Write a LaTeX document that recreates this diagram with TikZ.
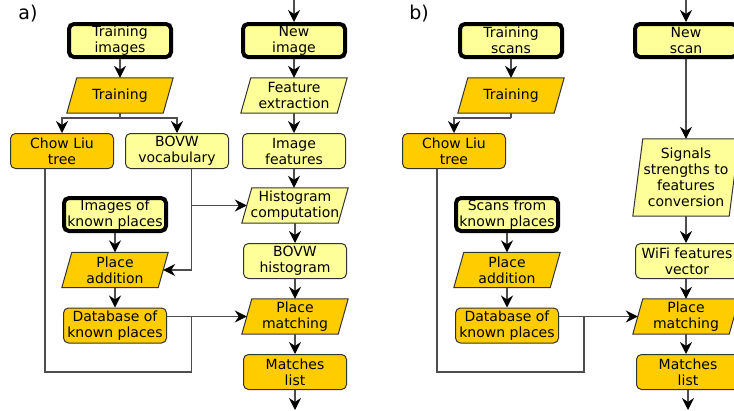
\documentclass[tikz,border=0pt]{standalone}
\usepackage{fontspec}
\setmainfont{DejaVu Sans}
\usetikzlibrary{arrows.meta,backgrounds}
\definecolor{dark}{HTML}{FFCC00}
\definecolor{light}{HTML}{FFFF99}
\definecolor{edgecol}{HTML}{333333}
\definecolor{wirecol}{HTML}{4D4D4D}
\tikzset{
 txt/.style={font=\fontsize{14}{16}\selectfont, align=center, inner sep=0pt},
 boxd/.style={txt, draw=edgecol, line width=1pt, rounded corners=5pt, minimum width=103pt, minimum height=35pt, fill=dark},
 boxl/.style={boxd, fill=light},
 thickbox/.style={txt, draw=black, line width=4pt, rounded corners=5pt, minimum width=102pt, minimum height=33pt, fill=light},
 pnode/.style={txt, minimum width=96pt, minimum height=35pt},
 pshape/.style={draw=edgecol, line width=1pt},
 conn/.style={draw=wirecol, line width=1.3pt, -{Stealth[length=12pt,width=12pt,inset=4pt,color=black]}},
 wireline/.style={draw=wirecol, line width=1.3pt},
 panel/.style={font=\fontsize{19}{22}\selectfont, inner sep=0pt}
}
\newcommand\pgram[2]{%
 \begin{scope}[on background layer]
 \filldraw[pshape, fill=#2] ([xshift=5pt]#1.north west) -- ([xshift=5pt]#1.north east) -- ([xshift=-5pt]#1.south east) -- ([xshift=-5pt]#1.south west) -- cycle;
 \end{scope}}
\begin{document}
\begin{tikzpicture}[x=1pt,y=-1pt]
\path[use as bounding box] (0,0) rectangle (734,410);

% ---------- panel a ----------
\node[panel] (la) at (28,14) {a)};
\node[thickbox] (ti) at (120,40.5) {Training\\images};
\node[pnode] (tr) at (120,95.5) {Training}; \pgram{tr}{dark}
\node[boxd] (cl) at (62,151) {Chow Liu\\tree};
\node[boxl] (bv) at (177,151) {BOVW\\vocabulary};
\node[thickbox] (ik) at (115,214.5) {Images of\\known places};
\node[pnode] (pa) at (115,270) {Place\\addition}; \pgram{pa}{dark}
\node[boxd] (db) at (115,325.5) {Database of\\known places};

\node[thickbox] (ni) at (294,40.5) {New\\image};
\node[pnode] (fe) at (294,95.5) {Feature\\extraction}; \pgram{fe}{light}
\node[boxl] (if) at (294,151) {Image\\features};
\node[pnode] (hc) at (295,205.5) {Histogram\\computation}; \pgram{hc}{light}
\node[boxl] (bh) at (295,261) {BOVW\\histogram};
\node[pnode] (pm) at (295,316.5) {Place\\matching}; \pgram{pm}{dark}
\node[boxd] (ml) at (295,372) {Matches\\list};

\coordinate (ta) at (294,0);
\coordinate (ba) at (295,410);
\draw[conn] (ta) -- (ni.north);
\draw[conn] (ni.south) -- (fe.north);
\draw[conn] (fe.south) -- (if.north);
\draw[conn] (if.south) -- (if.south |- hc.north);
\draw[conn] (hc.south) -- (bh.north);
\draw[conn] (bh.south) -- (pm.north);
\draw[conn] (pm.south) -- (ml.north);
\draw[conn] (ml.south) -- (ba);

\draw[conn] (ti.south) -- (tr.north);
\coordinate (sa) at (120,118);
\draw[wireline] (tr.south) -- (sa);
\draw[conn] (sa) -| (cl.north);
\draw[conn] (sa) -| (bv.north);
\draw[conn] (ik.south) -- (pa.north);
\draw[conn] (pa.south) -- (db.north);

\coordinate (bvo) at ([xshift=14.5pt]bv.south);
\draw[conn] (bvo) |- (pa.east);
\draw[conn] (bvo |- hc.west) -- (hc.west);
\draw[conn] (db.east |- pm.west) -- (pm.west);
\coordinate (clo) at ([xshift=-17pt]cl.south);
\coordinate (ja) at (bvo |- pm.west);
\draw[wireline] (clo) |- (ja |- ml) -- (ja);

% ---------- panel b ----------
\node[panel] (lb) at (419,14) {b)};
\node[thickbox] (ts) at (511,40.5) {Training\\scans};
\node[pnode] (tr2) at (511,95.5) {Training}; \pgram{tr2}{dark}
\node[boxd] (cl2) at (454,151) {Chow Liu\\tree};
\node[thickbox] (sk) at (507,214.5) {Scans from\\known places};
\node[pnode] (pa2) at (507,270) {Place\\addition}; \pgram{pa2}{dark}
\node[boxd] (db2) at (507,325.5) {Database of\\known places};

\node[thickbox] (ns) at (686,40.5) {New\\scan};
\node[pnode, minimum height=77pt] (sg) at (686,177.5) {Signals\\strengths to\\features\\conversion}; \pgram{sg}{light}
\node[boxl] (wf) at (687,261) {WiFi features\\vector};
\node[pnode] (pm2) at (686,316.5) {Place\\matching}; \pgram{pm2}{dark}
\node[boxd] (ml2) at (688,372) {Matches\\list};

\coordinate (tb) at (686,0);
\coordinate (bb) at (688,410);
\draw[conn] (tb) -- (ns.north);
\draw[conn] (ns.south) -- (sg.north);
\draw[conn] (sg.south) -- (sg.south |- wf.north);
\draw[conn] (wf.south -| pm2.north) -- (pm2.north);
\draw[conn] (pm2.south) -- (pm2.south |- ml2.north);
\draw[conn] (ml2.south) -- (bb);

\draw[conn] (ts.south) -- (tr2.north);
\coordinate (sb) at (511,118);
\draw[wireline] (tr2.south) -- (sb);
\draw[conn] (sb) -| (cl2.north);
\draw[conn] (sk.south) -- (pa2.north);
\draw[conn] (pa2.south) -- (db2.north);
\draw[conn] (db2.east |- pm2.west) -- (pm2.west);
\coordinate (dbe) at ([xshift=25pt]db2.east);
\coordinate (jb) at (dbe |- pm2.west);
\coordinate (clo2) at ([xshift=-17pt]cl2.south);
\draw[wireline] (clo2) |- (jb |- ml2) -- (jb);
\end{tikzpicture}
\end{document}
